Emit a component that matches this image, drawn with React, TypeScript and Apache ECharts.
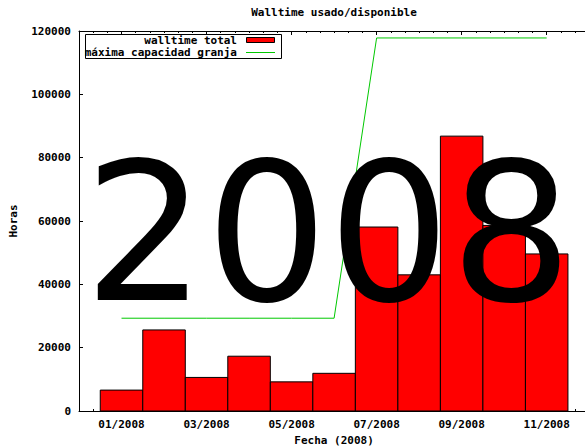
import React, { useEffect, useRef } from "react";
import * as echarts from "echarts";

const title = "Walltime usado/disponible";
const yTitle = "Horas";
const xTitle = "Fecha (2008)";
const yearMark = "2008";
const months = ["01/2008", "02/2008", "03/2008", "04/2008", "05/2008", "06/2008", "07/2008", "08/2008", "09/2008", "10/2008", "11/2008"];
const walltimeTotal = [6600, 25600, 10600, 17300, 9200, 11900, 58100, 43000, 86800, 58600, 49600];
const capacidadGranja = [29300, 29300, 29300, 29300, 29300, 29300, 117800, 117800, 117800, 117800, 117800];
const tickLabels = ["01/2008", "03/2008", "05/2008", "07/2008", "09/2008", "11/2008"];
const yTicks = [0, 20000, 40000, 60000, 80000, 100000, 120000];
const legendNames = ["walltime total", "máxima capacidad granja"];

// x axis unit: one third of a month; month i is centred at 3*(i+1)
const UNITS_PER_MONTH = 3;
const monthPos = (label: string) => (months.indexOf(label) + 1) * UNITS_PER_MONTH;

const FONT = '"DejaVu Sans Mono", monospace';

export default function App() {
  const ref = useRef<HTMLDivElement>(null);
  useEffect(() => {
    if (!ref.current) return;
    const chart = echarts.init(ref.current, undefined, { renderer: "svg" });
    const barData = months.map((m, i) => [monthPos(m), walltimeTotal[i]]);
    const lineData = months.map((m, i) => [monthPos(m), capacidadGranja[i]]);
    const majorTicks = tickLabels.map((t) => monthPos(t));
    const labelOf = (v: number) => {
      const idx = majorTicks.indexOf(v);
      return idx >= 0 ? tickLabels[idx] : "";
    };
    const xMax = (months.length + 1) * UNITS_PER_MONTH;
    const baseX = {
      type: "value",
      min: 0,
      max: xMax,
      interval: 1,
      splitLine: { show: false },
    };
    const lblStyle = { fontFamily: FONT, fontWeight: "bold", fontSize: 11, color: "#000" };
    const legendText = { fontFamily: FONT, fontWeight: "bold", fontSize: 11, lineHeight: 11, fill: "#000", align: "right", verticalAlign: "middle" };
    chart.setOption({
      animation: false,
      backgroundColor: "#fff",
      title: {
        text: title,
        left: 334,
        top: 7,
        textAlign: "center",
        padding: 0,
        textStyle: { ...lblStyle },
      },
      grid: {
        left: 79,
        top: 31,
        right: -4.2,
        bottom: 35,
        containLabel: false,
        outerBoundsMode: "none",
      },
      xAxis: [
        {
          ...baseX,
          position: "bottom",
          axisLine: { show: true, lineStyle: { color: "#000", width: 1 } },
          axisTick: { show: true, inside: true, length: 2, lineStyle: { color: "#000" } },
          axisLabel: {
            show: true,
            customValues: majorTicks,
            formatter: (v: number) => labelOf(v),
            margin: 8,
            ...lblStyle,
          },
          name: xTitle,
          nameLocation: "middle",
          nameGap: 23,
          nameTextStyle: { ...lblStyle },
        },
        {
          ...baseX,
          position: "top",
          axisLine: { show: true, lineStyle: { color: "#000", width: 1 } },
          axisTick: { show: true, inside: true, length: 2, lineStyle: { color: "#000" } },
          axisLabel: { show: false },
        },
        {
          ...baseX,
          position: "bottom",
          axisLine: { show: false },
          axisTick: { show: true, inside: true, length: 4, customValues: majorTicks, lineStyle: { color: "#000" } },
          axisLabel: { show: false },
        },
        {
          ...baseX,
          position: "top",
          axisLine: { show: false },
          axisTick: { show: true, inside: true, length: 4, customValues: majorTicks, lineStyle: { color: "#000" } },
          axisLabel: { show: false },
        },
      ],
      yAxis: [
        {
          type: "value",
          min: yTicks[0],
          max: yTicks[yTicks.length - 1],
          interval: yTicks[1] - yTicks[0],
          position: "left",
          splitLine: { show: false },
          axisLine: { show: true, lineStyle: { color: "#000", width: 1 } },
          axisTick: { show: true, inside: true, length: 4, lineStyle: { color: "#000" } },
          axisLabel: { margin: 8, formatter: (v: number) => String(v), ...lblStyle },
          name: yTitle,
          nameLocation: "middle",
          nameGap: 60,
          nameTextStyle: { ...lblStyle },
        },
      ],
      series: [
        {
          name: legendNames[0],
          type: "custom",
          xAxisIndex: 0,
          yAxisIndex: 0,
          data: barData,
          encode: { x: 0, y: 1 },
          renderItem: (params: any, api: any) => {
            const x = api.value(0);
            const y = api.value(1);
            const half = UNITS_PER_MONTH / 2;
            const p0 = api.coord([x - half, y]);
            const p1 = api.coord([x + half, 0]);
            return {
              type: "rect",
              shape: { x: p0[0], y: p0[1], width: p1[0] - p0[0], height: p1[1] - p0[1] },
              style: { fill: "#ff0000", stroke: "#000", lineWidth: 1 },
            };
          },
          z: 2,
        },
        {
          name: legendNames[1],
          type: "line",
          xAxisIndex: 0,
          yAxisIndex: 0,
          data: lineData,
          symbol: "none",
          lineStyle: { color: "#00c800", width: 1 },
          itemStyle: { color: "#00c800" },
          z: 3,
        },
      ],
      graphic: [
        {
          type: "rect",
          shape: { x: 85.5, y: 34.5, width: 196, height: 24 },
          style: { fill: "#fff", stroke: "#000", lineWidth: 1 },
          z: 50,
        },
        {
          type: "text",
          x: 237,
          y: 40.5,
          style: { text: legendNames[0], ...legendText },
          z: 51,
        },
        {
          type: "text",
          x: 237,
          y: 52,
          style: { text: legendNames[1], ...legendText },
          z: 51,
        },
        {
          type: "rect",
          shape: { x: 246.5, y: 37.5, width: 28, height: 5 },
          style: { fill: "#ff0000", stroke: "#000", lineWidth: 1 },
          z: 51,
        },
        {
          type: "line",
          shape: { x1: 246, y1: 52.5, x2: 275, y2: 52.5 },
          style: { stroke: "#00c800", lineWidth: 1 },
          z: 51,
        },
        {
          type: "text",
          x: 328,
          y: 233,
          style: { text: yearMark, fontFamily: '"DejaVu Sans"', fontSize: 192, fill: "#000", align: "center", verticalAlign: "middle" },
          z: 100,
        },
      ],
    });
    return () => chart.dispose();
  }, []);
  return <div ref={ref} style={{ position: "fixed", left: 0, top: 0, width: 585, height: 446 }} />;
}
